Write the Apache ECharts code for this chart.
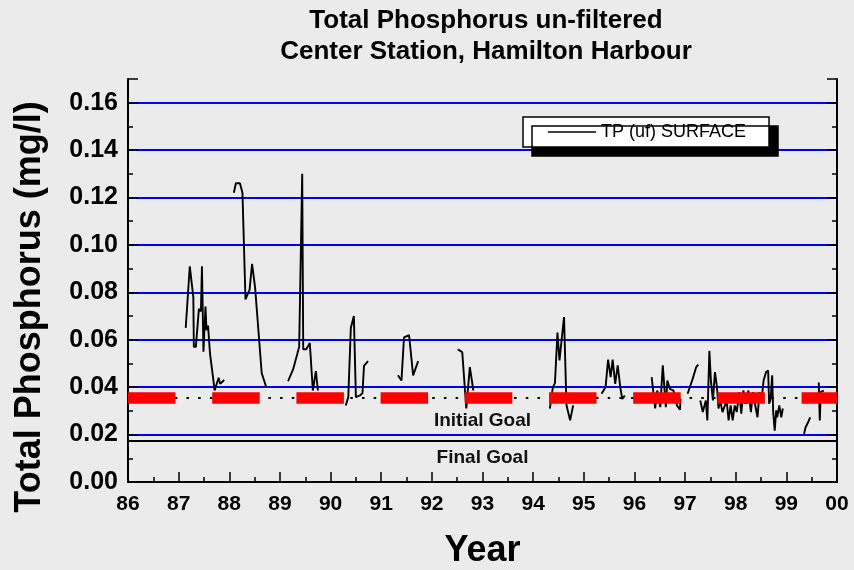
<!DOCTYPE html>
<html>
<head>
<meta charset="utf-8">
<script src="https://cdn.jsdelivr.net/npm/echarts@6/dist/echarts.min.js"></script>
<style>
    html, body {margin: 0; padding: 0; background: #ebebeb;}
    #chart {width: 854px; height: 570px;}
</style>
</head>
<body>
<div id="chart"></div>
<script>
// sample dates (decimal years, 86 = 1986), null = gap between sampling seasons
let years = [
    87.14, 87.22, 87.29, 87.30, 87.34, 87.40, 87.44, 87.46, 87.49, 87.53, 87.55, 87.58, 87.62, 87.65, 87.68, 87.71, 87.76, 87.79, 87.82, 87.90, 87.95,
    88.09, 88.13, 88.21, 88.26, 88.32, 88.40, 88.45, 88.51, 88.64, 88.73, 88.90,
    89.16, 89.26, 89.38, 89.44, 89.46, 89.52, 89.59, 89.65, 89.71, 89.75, 90.00,
    90.30, 90.35, 90.40, 90.46, 90.50, 90.58, 90.63, 90.66, 90.74, 91.00,
    91.33, 91.40, 91.45, 91.55, 91.63, 91.73, 92.00,
    92.51, 92.60, 92.68, 92.75, 92.82, 93.50,
    94.33, 94.39, 94.43, 94.48, 94.52, 94.61, 94.65, 94.66, 94.73, 94.79, 95.00,
    95.35, 95.43, 95.48, 95.53, 95.57, 95.62, 95.67, 95.72, 95.76, 95.81, 96.00,
    96.34, 96.41, 96.45, 96.51, 96.56, 96.59, 96.62, 96.65, 96.70, 96.77, 96.84, 96.90, 96.91, 96.98,
    97.05, 97.15, 97.22, 97.26, 97.28,
    97.30, 97.35, 97.41, 97.44, 97.48, 97.51, 97.55, 97.59, 97.63, 97.66, 97.69, 97.74, 97.82, 97.86, 97.90, 97.94, 97.98,
    98.02, 98.07, 98.11, 98.15, 98.20, 98.25, 98.30, 98.34, 98.38, 98.43, 98.47, 98.51, 98.55, 98.60, 98.64, 98.66, 98.69,
    98.72, 98.74, 98.77, 98.80, 98.82, 98.86, 98.90, 98.93, 99.10,
    99.35, 99.38, 99.43, 99.47, 99.55,
    99.64, 99.66, 99.68, 99.74
];
let tpSurface = [
    0.065, 0.091, 0.078, 0.057, 0.057, 0.073, 0.072, 0.091, 0.055, 0.074, 0.064, 0.066, 0.054, 0.054, 0.044, 0.0386, 0.042, 0.044, 0.0414, 0.043, null,
    0.122, 0.126, 0.126, 0.122, 0.077, 0.081, 0.092, 0.082, 0.046, 0.040, null,
    0.0425, 0.0475, 0.057, 0.130, 0.056, 0.056, 0.0586, 0.0386, 0.0468, 0.0386, null,
    0.0323, 0.0358, 0.065, 0.070, 0.0358, 0.0365, 0.0375, 0.049, 0.051, null,
    0.045, 0.0428, 0.061, 0.062, 0.045, 0.051, null,
    0.056, 0.0548, 0.031, 0.0485, 0.0386, null,
    0.031, 0.040, 0.0417, 0.063, 0.0513, 0.0696, 0.0386, 0.0323, 0.026, 0.0323, null,
    0.0372, 0.040, 0.0516, 0.0442, 0.0516, 0.0414, 0.0492, 0.040, 0.035, 0.0365, null,
    0.0442, 0.031, 0.0386, 0.0316, 0.0492, 0.0492, 0.0316, 0.0428, 0.0393, 0.0386, 0.0323, 0.0305, 0.035, null,
    0.0372, 0.0435, 0.0485, 0.0495, null,
    0.0344, 0.0295, 0.0344, 0.026, 0.0553, 0.0428, 0.0344, 0.0464, 0.040, 0.031, 0.0344, 0.0295, 0.0344, 0.026, 0.0323, 0.026, 0.0323,
    0.0295, 0.0379, 0.0288, 0.0386, 0.033, 0.0386, 0.0295, 0.0379, 0.033, 0.0273, 0.0379, 0.0344, 0.0428, 0.0464, 0.047, 0.033, 0.035,
    0.045, 0.0295, 0.0217, 0.0302, 0.0273, 0.0323, 0.0273, 0.031, null,
    0.0203, 0.0231, 0.0252, 0.0273, null,
    0.042, 0.026, 0.038, 0.0385
];
let xTickLabels = ['86', '87', '88', '89', '90', '91', '92', '93', '94', '95', '96', '97', '98', '99', '00'];
let initialGoal = 0.0355;
let finalGoal = 0.0172;

let font = 'Liberation Sans, Arial, sans-serif';
let myChart = echarts.init(document.getElementById('chart'));

let lineData = years.map((y, i) => [y, tpSurface[i] == null ? '-' : tpSurface[i]]);

myChart.setOption({
    backgroundColor: '#ebebeb',
    animation: false,
    title: {
        text: 'Total Phosphorus un-filtered\nCenter Station, Hamilton Harbour',
        left: 481,
        top: 0,
        textAlign: 'center',
        textStyle: {fontFamily: font, fontWeight: 'bold', fontSize: 26, lineHeight: 31, color: '#000'}
    },
    legend: {
        data: [{name: 'TP (uf) SURFACE', icon: 'rect'}],
        left: 523,
        top: 117,
        padding: [6, 23, 6, 25],
        itemWidth: 48,
        itemHeight: 1.6,
        backgroundColor: '#fff',
        borderColor: '#000',
        borderWidth: 1.5,
        borderRadius: 0,
        shadowColor: '#000',
        shadowBlur: 0,
        shadowOffsetX: 9,
        shadowOffsetY: 9,
        textStyle: {fontFamily: font, fontSize: 18, color: '#000'}
    },
    grid: {left: 128, right: 17, top: 79, bottom: 88, outerBoundsMode: 'none'},
    graphic: [{
        type: 'text',
        x: 30,
        y: 307,
        rotation: Math.PI / 2,
        style: {
            text: 'Total Phosphorus (mg/l)',
            fontFamily: font,
            fontWeight: 'bold',
            fontSize: 36,
            fill: '#000',
            align: 'center',
            verticalAlign: 'middle'
        }
    }],
    xAxis: [{
        type: 'value',
        min: 86,
        max: 100,
        interval: 1,
        name: 'Year',
        nameLocation: 'middle',
        nameGap: 51,
        nameTextStyle: {fontFamily: font, fontWeight: 'bold', fontSize: 36, color: '#000'},
        axisLine: {lineStyle: {color: '#000', width: 2}},
        axisTick: {inside: true, length: 10, lineStyle: {color: '#000', width: 1.5}},
        minorTick: {show: true, splitNumber: 2, length: 5, lineStyle: {color: '#000', width: 1.5}},
        splitLine: {show: false},
        axisLabel: {
            fontFamily: font, fontWeight: 'bold', fontSize: 21, color: '#000', margin: 12,
            formatter: v => xTickLabels[Math.round(v - 86)]
        }
    }, {
        type: 'value',
        position: 'top',
        min: 86,
        max: 100,
        axisLine: {show: true, lineStyle: {color: '#000', width: 2}},
        axisTick: {show: false},
        axisLabel: {show: false},
        splitLine: {show: false}
    }],
    yAxis: [{
        type: 'value',
        min: 0,
        max: 0.17,
        interval: 0.02,
        axisLine: {show: true, lineStyle: {color: '#000', width: 2}},
        axisTick: {show: true, inside: true, length: 10, lineStyle: {color: '#000', width: 1.5}},
        minorTick: {show: true, splitNumber: 2, length: 5, lineStyle: {color: '#000', width: 1.5}},
        splitLine: {show: true, showMinLine: false, showMaxLine: false, lineStyle: {color: '#0000ff', width: 2}},
        axisLabel: {
            fontFamily: font, fontWeight: 'bold', fontSize: 25, color: '#000', margin: 10,
            showMaxLabel: false,
            formatter: v => v.toFixed(2)
        }
    }, {
        type: 'value',
        position: 'right',
        min: 0,
        max: 0.17,
        interval: 0.02,
        axisLine: {show: true, lineStyle: {color: '#000', width: 2}},
        axisTick: {show: true, inside: true, length: 10, lineStyle: {color: '#000', width: 1.5}},
        minorTick: {show: true, splitNumber: 2, length: 5, lineStyle: {color: '#000', width: 1.5}},
        axisLabel: {show: false},
        splitLine: {show: false}
    }],
    series: [{
        name: 'TP (uf) SURFACE',
        type: 'line',
        data: lineData,
        symbol: 'none',
        connectNulls: false,
        z: 2,
        lineStyle: {color: '#000', width: 1.9},
        itemStyle: {color: '#000'}
    }, {
        name: 'goals',
        type: 'line',
        data: [],
        z: 3,
        markLine: {
            silent: true,
            symbol: 'none',
            precision: 4,
            animation: false,
            data: [{
                yAxis: initialGoal,
                lineStyle: {color: '#000', width: 2, type: [2.5, 9.2]},
                label: {show: false}
            }, {
                yAxis: initialGoal,
                lineStyle: {color: '#ff0000', width: 11.5, type: [47.5, 36.7], dashOffset: 0},
                label: {
                    show: true, position: 'insideMiddleBottom', distance: 13,
                    formatter: 'Initial Goal',
                    fontFamily: font, fontWeight: 'bold', fontSize: 19, color: '#111'
                }
            }, {
                yAxis: finalGoal,
                lineStyle: {color: '#000', width: 2, type: 'solid'},
                label: {
                    show: true, position: 'insideMiddleBottom', distance: 7,
                    formatter: 'Final Goal',
                    fontFamily: font, fontWeight: 'bold', fontSize: 19, color: '#111'
                }
            }]
        }
    }]
});
</script>
</body>
</html>
